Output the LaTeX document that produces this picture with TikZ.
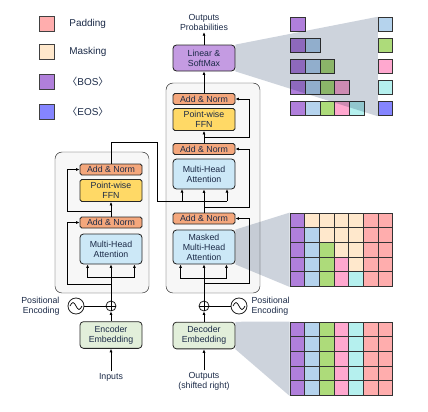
\documentclass[tikz,border=0pt]{standalone}
\usepackage{fontspec}
\setmainfont{Liberation Sans}
\newfontfamily\cjk{Noto Sans CJK SC}
\usepackage{tikz}
\usetikzlibrary{arrows.meta,calc,backgrounds}

\definecolor{txt}{HTML}{1B2A47}
\definecolor{bos}{HTML}{B07FDB}
\definecolor{eos}{HTML}{8585FF}
\definecolor{tkA}{HTML}{B5D3ED}
\definecolor{tkB}{HTML}{ADDB7A}
\definecolor{tkC}{HTML}{FFA8CF}
\definecolor{tkD}{HTML}{B5F0EE}
\definecolor{pad}{HTML}{FFADAD}
\definecolor{mask}{HTML}{FFE8CC}
\definecolor{anfill}{HTML}{F4A77C}
\definecolor{ffnfill}{HTML}{FFD966}
\definecolor{mhafill}{HTML}{CCE8F7}
\definecolor{embfill}{HTML}{E2EFDA}
\definecolor{linfill}{HTML}{C49BE2}
\definecolor{proj}{HTML}{CDD3DC}
\definecolor{outerfill}{HTML}{F7F7F7}

\tikzset{
  blk/.style={draw=black!85, rounded corners=1.5pt, inner sep=0pt, align=center,
    minimum width=1.86cm, text=txt},
  addnorm/.style={blk, fill=anfill, minimum height=0.33cm},
  ffn/.style={blk, fill=ffnfill, minimum height=0.66cm},
  mha/.style={blk, fill=mhafill, rounded corners=3pt, minimum height=0.9cm},
  emb/.style={blk, fill=embfill, rounded corners=3pt, minimum height=0.8cm},
  linbox/.style={blk, fill=linfill, rounded corners=3pt, minimum height=0.78cm},
  plus/.style={circle, draw=black!85, fill=white, inner sep=0pt, minimum size=0.3cm},
  pe/.style={circle, draw=black!85, fill=white, inner sep=0pt, minimum size=0.48cm},
  lab/.style={inner sep=1pt, align=center, text=txt},
  cell/.style={draw=black!80, inner sep=0pt, minimum size=0.44cm},
  key/.style={draw=black!75, inner sep=0pt, minimum size=0.45cm},
  keytxt/.style={anchor=west, inner sep=0pt, text=txt, font=\fontsize{8.5}{10}\selectfont},
  outerline/.style={draw=black!85, rounded corners=6pt},
  shade/.style={fill=proj, blend mode=multiply}
}

\begin{document}
\begin{tikzpicture}[x=0.03cm,y=-0.03cm,>={Latex[length=3pt,width=2.6pt]},line width=0.7pt,
    font=\fontsize{7.5}{8.5}\selectfont]
    \useasboundingbox (0,0) rectangle (428,411);
    %legend
    \node[key,fill=pad] (kpad) at (46.5,23.5) {};
    \node[key,fill=mask] (kmask) at (46.5,51.5) {};
    \node[key,fill=bos] (kbos) at (46.5,81.5) {};
    \node[key,fill=eos] (keos) at (46.5,111.5) {};
    \node[keytxt] (tpad) at (69,23.5) {Padding};
    \node[keytxt] (tmask) at (69,51.5) {Masking};
    \node[keytxt] (tbos) at (67,81.5) {{\cjk 〈}BOS{\cjk 〉}};
    \node[keytxt] (teos) at (67,111.5) {{\cjk 〈}EOS{\cjk 〉}};
    %encoder
    \node[addnorm] (encAN2) at (111,169.5) {Add \& Norm};
    \node[ffn] (encFFN) at (111,190.5) {Point-wise\\FFN};
    \node[addnorm] (encAN1) at (111,222.5) {Add \& Norm};
    \node[mha] (encMHA) at (111,249) {Multi-Head\\Attention};
    \node[plus] (encPlus) at (111,306) {};
    \node[pe] (encPE) at (76,306) {};
    \node[emb] (encEmb) at (111,335) {Encoder\\Embedding};
    \node[lab] (inputs) at (111,377) {Inputs};
    \node[lab,align=right,anchor=east] (encPElab) at (61,306) {Positional\\Encoding};
    %decoder
    \node[lab] (outProb) at (204,22.5) {Outputs\\Probabilities};
    \node[linbox] (linear) at (204,58) {Linear \&\\SoftMax};
    \node[addnorm] (decAN3) at (204,99) {Add \& Norm};
    \node[ffn] (decFFN) at (204,119.5) {Point-wise\\FFN};
    \node[addnorm] (decAN2) at (204,149) {Add \& Norm};
    \node[mha] (decMHA) at (204,174) {Multi-Head\\Attention};
    \node[addnorm] (decAN1) at (204,218.5) {Add \& Norm};
    \node[mha,minimum height=1.02cm] (decMMHA) at (204,247) {Masked\\Multi-Head\\Attention};
    \node[plus] (decPlus) at (204,306) {};
    \node[pe] (decPE) at (239,306) {};
    \node[emb] (decEmb) at (204,335.5) {Decoder\\Embedding};
    \node[lab] (outputs) at (204,381) {Outputs\\(shifted right)};
    \node[lab,align=left,anchor=west] (decPElab) at (250,306) {Positional\\Encoding};
    %bends
    \coordinate (encFork) at (111,277);
    \coordinate (encRes1) at (111,284);
    \coordinate (encRes2) at (111,211);
    \coordinate (encBend) at (157,142);
    \coordinate (decKV) at (227,201);
    \coordinate (decFork) at (204,278);
    \coordinate (decRes1) at (204,283);
    \coordinate (decRes2) at (204,207);
    \coordinate (decRes3) at (204,137);
    %plus and sine
    \foreach \p in {encPlus,decPlus}
      \draw[line width=0.6pt] (\p.north) -- (\p.south) (\p.west) -- (\p.east);
    \foreach \p in {encPE,decPE}
      \draw[line width=0.6pt] ($(\p)+(-6,0)$) sin ++(3,-3.5) cos ++(3,3.5) sin ++(3,3.5) cos ++(3,-3.5);
    %encoder edges
    \draw[->] (inputs) -- (encEmb);
    \draw[->] (encEmb) -- (encPlus);
    \draw (encPE) -- (encPlus);
    \draw (encPlus) -- (encFork);
    \draw[->] (encFork) -- (encMHA);
    \draw[->] (encFork) -| ($(encMHA.south west)+(8,0)$);
    \draw[->] (encFork) -| ($(encMHA.south east)+(-8,0)$);
    \draw[->] (encRes1) -- ++(-44,0) |- (encAN1);
    \draw[->] (encAN1) -- (encFFN);
    \draw[->] (encRes2) -- ++(-44,0) |- (encAN2);
    \draw (encAN2) |- (encBend) |- (decKV);
    %decoder edges
    \draw[->] (outputs) -- (decEmb);
    \draw[->] (decEmb) -- (decPlus);
    \draw (decPE) -- (decPlus);
    \draw (decPlus) -- (decFork);
    \draw[->] (decFork) -- (decMMHA);
    \draw[->] (decFork) -| ($(decMMHA.south west)+(8,0)$);
    \draw[->] (decFork) -| ($(decMMHA.south east)+(-9,0)$);
    \draw[->] (decRes1) -- ++(45,0) |- (decAN1);
    \draw[->] (decAN1) -- (decMHA);
    \draw[->] (decKV) -- ++(0,-12);
    \draw[->] (decKV) ++(-45,0) -- ++(0,-12);
    \draw[->] (decRes2) -- ++(45,0) |- (decAN2);
    \draw[->] (decAN2) -- (decFFN);
    \draw[->] (decRes3) -- ++(45,0) |- (decAN3);
    \draw[->] (decAN3) -- (linear);
    \draw[->] (linear) -- (outProb);
    %token grids
    \foreach \j in {0,...,4}
      \foreach \col [count=\i from 0] in {bos,tkA,tkB,tkC,tkD} {
        \ifnum\i>\j\else
          \node[cell,fill=\col] (t-\i-\j) at (298+14.7*\i,24.5+21*\j) {};
        \fi
      }
    \foreach \col [count=\j from 0] in {tkA,tkB,tkC,tkD,eos}
      \node[cell,fill=\col] (r-\j) at (385.5,24.5+21*\j) {};
    \fill[shade] (linear.north east) -- (r-0.north west) -- (r-4.south west) -- (linear.south east) -- cycle;
    \foreach \j in {0,...,4}
      \foreach \col [count=\i from 0] in {bos,tkA,tkB,tkC,tkD,pad,pad} {
        \ifnum\i>\j \ifnum\i<5 \def\c{mask}\else\def\c{\col}\fi \else\def\c{\col}\fi
        \node[cell,fill=\c] (m-\i-\j) at (297.35+14.7*\i,220.35+14.7*\j) {};
        \node[cell,fill=\col] (b-\i-\j) at (297.35+14.7*\i,329.35+14.7*\j) {};
      }
    %boxes and projections
    \begin{pgfonlayer}{background}
      \fill[outerfill,rounded corners=6pt] (55,152) rectangle (149,293);
      \fill[outerfill,rounded corners=6pt] (166,83) rectangle (260,293);
      \fill[shade] (decMMHA.north east) -- (m-0-0.north west) -- (m-0-4.south west) -- (decMMHA.south east) -- cycle;
      \fill[shade] (decEmb.north east) -- (b-0-0.north west) -- (b-0-4.south west) -- (decEmb.south east) -- cycle;
    \end{pgfonlayer}
    \draw[outerline] (55,152) rectangle (149,293);
    \draw[outerline] (166,83) rectangle (260,293);
\end{tikzpicture}
\end{document}
